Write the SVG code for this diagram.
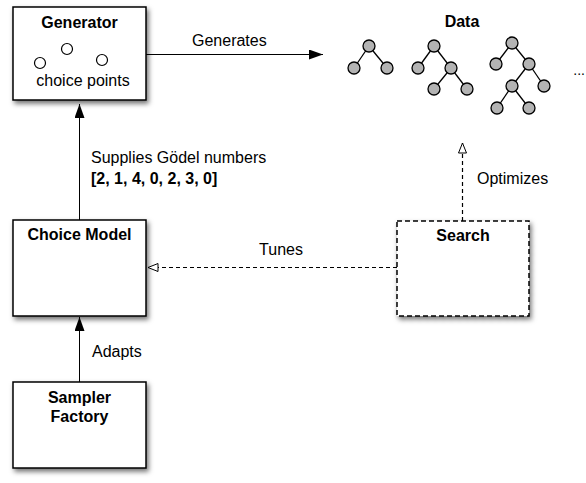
<svg xmlns="http://www.w3.org/2000/svg" width="586" height="483" viewBox="0 0 586 483">
<defs>
<filter id="sh" x="-20%" y="-20%" width="150%" height="150%">
<feDropShadow dx="2" dy="3" stdDeviation="2.5" flood-color="#000" flood-opacity="0.55"/>
</filter>
<marker id="filled" viewBox="0 0 14 10" refX="14" refY="5" markerWidth="14" markerHeight="10" markerUnits="userSpaceOnUse" orient="auto">
<path d="M0,0 L14,5 L0,10 Z" fill="#000"/>
</marker>
<marker id="open" viewBox="0 0 12 10" refX="11" refY="5" markerWidth="12" markerHeight="10" markerUnits="userSpaceOnUse" orient="auto">
<path d="M1,1 L11,5 L1,9 Z" fill="#fff" stroke="#000" stroke-width="1"/>
</marker>
</defs>
<style>
text{font-family:"Liberation Sans",Arial,Helvetica,sans-serif;font-size:16px;fill:#000}
.b{font-weight:bold}
.box{fill:#fff;stroke:#000;stroke-width:1.5}
.dbox{fill:#fff;stroke:#000;stroke-width:1.5;stroke-dasharray:5,3}
.cp{fill:#fff;stroke:#000;stroke-width:1.2}
.tn{fill:#b3b3b3;stroke:#000;stroke-width:1.3}
.te{stroke:#000;stroke-width:1.3}
.c{stroke:#000;stroke-width:1;fill:none}
.d{stroke:#000;stroke-width:1.2;fill:none;stroke-dasharray:4,3}
</style>
<rect width="586" height="483" fill="#fff"/>

<g id="generator">
<rect class="box" x="13" y="7" width="133" height="93" filter="url(#sh)"/>
<text class="b" x="79.5" y="28" text-anchor="middle">Generator</text>
<circle class="cp" cx="40" cy="63" r="5.5"/>
<circle class="cp" cx="67" cy="49" r="5.5"/>
<circle class="cp" cx="102" cy="60" r="5.5"/>
<text x="83" y="86" text-anchor="middle">choice points</text>
</g>

<g id="data">
<text class="b" x="462" y="27" text-anchor="middle">Data</text>
<g id="tree1">
<line class="te" x1="369" y1="46" x2="354" y2="68"/>
<line class="te" x1="369" y1="46" x2="387" y2="68"/>
<circle class="tn" cx="369" cy="46" r="6"/>
<circle class="tn" cx="354" cy="68" r="6"/>
<circle class="tn" cx="387" cy="68" r="6"/>
</g>
<g id="tree2">
<line class="te" x1="434" y1="46" x2="418" y2="68"/>
<line class="te" x1="434" y1="46" x2="451" y2="68"/>
<line class="te" x1="451" y1="68" x2="434" y2="89"/>
<line class="te" x1="451" y1="68" x2="467" y2="89"/>
<circle class="tn" cx="434" cy="46" r="6"/>
<circle class="tn" cx="418" cy="68" r="6"/>
<circle class="tn" cx="451" cy="68" r="6"/>
<circle class="tn" cx="434" cy="89" r="6"/>
<circle class="tn" cx="467" cy="89" r="6"/>
</g>
<g id="tree3">
<line class="te" x1="512" y1="43" x2="496" y2="64"/>
<line class="te" x1="512" y1="43" x2="529" y2="64"/>
<line class="te" x1="529" y1="64" x2="512" y2="86"/>
<line class="te" x1="529" y1="64" x2="544" y2="86"/>
<line class="te" x1="512" y1="86" x2="497" y2="108"/>
<line class="te" x1="512" y1="86" x2="529" y2="108"/>
<circle class="tn" cx="512" cy="43" r="6"/>
<circle class="tn" cx="496" cy="64" r="6"/>
<circle class="tn" cx="529" cy="64" r="6"/>
<circle class="tn" cx="512" cy="86" r="6"/>
<circle class="tn" cx="544" cy="86" r="6"/>
<circle class="tn" cx="497" cy="108" r="6"/>
<circle class="tn" cx="529" cy="108" r="6"/>
</g>
<text x="585" y="75" text-anchor="end" style="font-size:14px">...</text>
</g>

<g id="choice-model">
<rect class="box" x="13" y="220" width="133" height="96" filter="url(#sh)"/>
<text class="b" x="79.5" y="240" text-anchor="middle">Choice Model</text>
</g>

<g id="search">
<rect class="dbox" x="397" y="221" width="132" height="95" filter="url(#sh)"/>
<text class="b" x="463" y="241" text-anchor="middle">Search</text>
</g>

<g id="sampler-factory">
<rect class="box" x="13" y="382" width="133" height="86" filter="url(#sh)"/>
<text class="b" x="79.5" y="403" text-anchor="middle">Sampler</text>
<text class="b" x="79.5" y="422" text-anchor="middle">Factory</text>
</g>

<g id="connectors">
<line class="c" x1="146" y1="54.5" x2="323" y2="54.5" marker-end="url(#filled)"/>
<text x="192" y="46">Generates</text>
<line class="c" x1="79.5" y1="220" x2="79.5" y2="104" marker-end="url(#filled)"/>
<text x="91" y="163">Supplies Gödel numbers</text>
<text class="b" x="91" y="184">[2, 1, 4, 0, 2, 3, 0]</text>
<line class="c" x1="79.5" y1="382" x2="79.5" y2="317" marker-end="url(#filled)"/>
<text x="92" y="357">Adapts</text>
<line class="d" x1="462.5" y1="221" x2="462.5" y2="143" marker-end="url(#open)"/>
<text x="477" y="184">Optimizes</text>
<line class="d" x1="397" y1="267.5" x2="148" y2="267.5" marker-end="url(#open)"/>
<text x="281" y="255" text-anchor="middle">Tunes</text>
</g>
</svg>
